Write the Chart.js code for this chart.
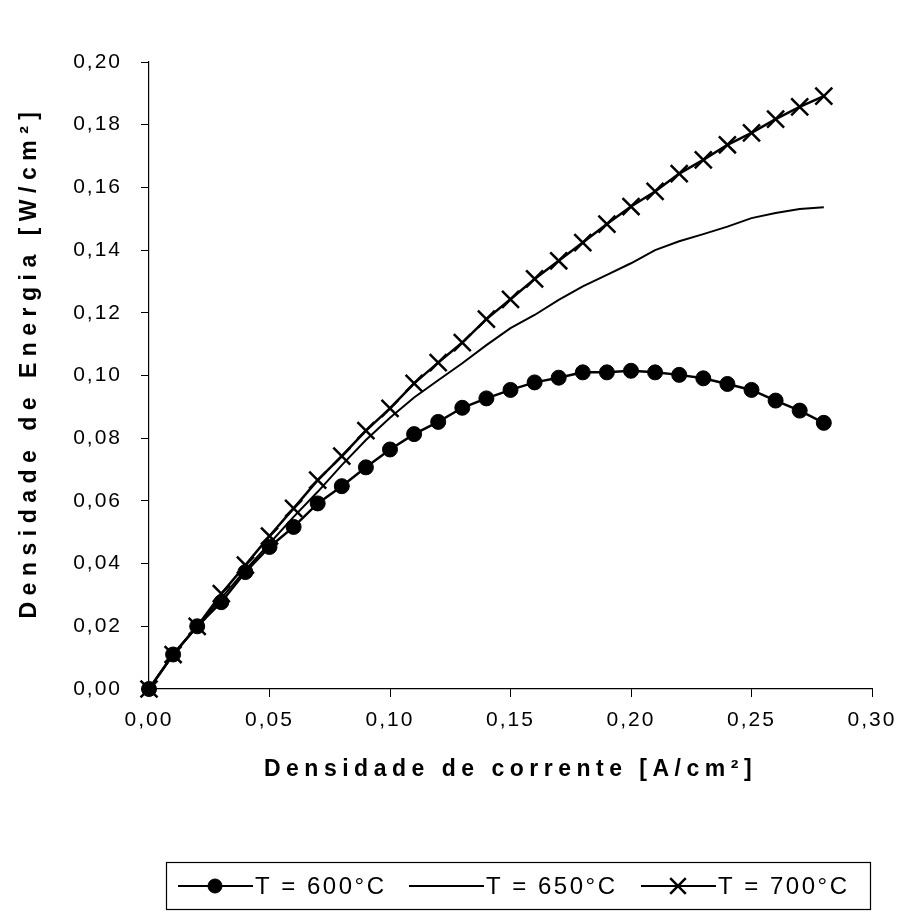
<!DOCTYPE html>
<html>
<head>
<meta charset="utf-8">
<script src="https://cdn.jsdelivr.net/npm/chart.js@4.4.1/dist/chart.umd.min.js"></script>
<style>
  html, body { margin: 0; padding: 0; background: #fff; }
  #wrap { width: 904px; height: 920px; }
</style>
</head>
<body>
<div id="wrap"><canvas id="grafico" width="904" height="920"></canvas></div>
<script>
// densidade de corrente [A/cm2]
const correntes = [0, 0.01, 0.02, 0.03, 0.04, 0.05, 0.06, 0.07, 0.08, 0.09,
  0.10, 0.11, 0.12, 0.13, 0.14, 0.15, 0.16, 0.17, 0.18, 0.19,
  0.20, 0.21, 0.22, 0.23, 0.24, 0.25, 0.26, 0.27, 0.28];

// densidade de energia [W/cm2] por temperatura
const t600 = [0, 0.011, 0.020, 0.0277, 0.0373, 0.0453, 0.0517, 0.0592, 0.0647, 0.0707,
  0.0764, 0.0813, 0.0852, 0.0897, 0.0927, 0.0954, 0.0978, 0.0993, 0.1010, 0.1010,
  0.1015, 0.1010, 0.1002, 0.0991, 0.0973, 0.0954, 0.0920, 0.0888, 0.0849];
const t650 = [0, 0.011, 0.020, 0.029, 0.038, 0.0464, 0.0549, 0.0629, 0.0714, 0.0794,
  0.0865, 0.0930, 0.0985, 0.1039, 0.1097, 0.1151, 0.1193, 0.1241, 0.1284, 0.1321,
  0.1358, 0.1400, 0.1428, 0.1451, 0.1475, 0.1502, 0.1518, 0.1531, 0.1537];
const t700 = [0, 0.011, 0.020, 0.0304, 0.0395, 0.0488, 0.0576, 0.0666, 0.0743, 0.0824,
  0.0895, 0.0975, 0.1041, 0.1105, 0.1180, 0.1243, 0.1308, 0.1366, 0.1424, 0.1483,
  0.1539, 0.1587, 0.1644, 0.1688, 0.1736, 0.1774, 0.1818, 0.1857, 0.1891];

const rotulos = ['T = 600°C', 'T = 650°C', 'T = 700°C'];

const xTicks = [0, 0.05, 0.10, 0.15, 0.20, 0.25, 0.30];
const xTickLabels = ['0,00', '0,05', '0,10', '0,15', '0,20', '0,25', '0,30'];
const yTicks = [0, 0.02, 0.04, 0.06, 0.08, 0.10, 0.12, 0.14, 0.16, 0.18, 0.20];
const yTickLabels = ['0,00', '0,02', '0,04', '0,06', '0,08', '0,10', '0,12', '0,14', '0,16', '0,18', '0,20'];

const tituloX = 'Densidade de corrente [A/cm²]';
const tituloY = 'Densidade de Energia [W/cm²]';

const FONTE = '"Liberation Sans", Arial, sans-serif';

function pontos(ys) {
  return correntes.map((x, i) => ({ x: x, y: ys[i] }));
}

// espacamento entre letras (o grafico original tem texto espacado)
const espacamento = {
  id: 'espacamento',
  beforeDraw(chart) { chart.ctx.letterSpacing = '2px'; },
  afterDraw(chart) { chart.ctx.letterSpacing = '0px'; }
};

// titulos dos eixos e legenda em caixa, desenhados a mao
const extras = {
  id: 'extras',
  afterDraw(chart) {
    const ctx = chart.ctx;
    const area = chart.chartArea;
    ctx.save();
    ctx.fillStyle = '#000';
    ctx.strokeStyle = '#000';

    ctx.font = 'bold 23px ' + FONTE;
    ctx.letterSpacing = '5.5px';
    ctx.textAlign = 'center';
    ctx.textBaseline = 'middle';
    ctx.fillText(tituloX, (area.left + area.right) / 2, 770);

    ctx.save();
    ctx.letterSpacing = '6.5px';
    ctx.translate(30, 362);
    ctx.rotate(-Math.PI / 2);
    ctx.fillText(tituloY, 0, 0);
    ctx.restore();

    // legenda
    ctx.lineWidth = 1.2;
    ctx.strokeRect(166.5, 862.5, 704, 47);
    const itensX = [178, 409, 641];
    const yLeg = 886;
    ctx.font = '24px ' + FONTE;
    ctx.letterSpacing = '2.5px';
    ctx.textAlign = 'left';
    chart.data.datasets.forEach((ds, i) => {
      const x0 = itensX[i];
      ctx.lineWidth = 2;
      ctx.beginPath();
      ctx.moveTo(x0, yLeg);
      ctx.lineTo(x0 + 75, yLeg);
      ctx.stroke();
      if (ds.pointRadius > 0) {
        ctx.lineWidth = ds.pointBorderWidth;
        Chart.helpers.drawPoint(ctx, {
          pointStyle: ds.pointStyle,
          radius: ds.pointStyle === 'circle' ? 7 : 11,
          borderWidth: ds.pointBorderWidth,
          rotation: 0
        }, x0 + 37, yLeg);
      }
      ctx.fillText(ds.label, x0 + 77, yLeg + 1);
    });
    ctx.restore();
  }
};

new Chart(document.getElementById('grafico'), {
  type: 'line',
  data: {
    datasets: [
      {
        label: rotulos[0],
        data: pontos(t600),
        borderColor: '#000',
        backgroundColor: '#000',
        borderWidth: 2.5,
        pointStyle: 'circle',
        pointRadius: 7.5,
        pointBorderWidth: 1,
        clip: false
      },
      {
        label: rotulos[1],
        data: pontos(t650),
        borderColor: '#000',
        backgroundColor: '#000',
        borderWidth: 2,
        pointRadius: 0,
        pointBorderWidth: 0,
        clip: false
      },
      {
        label: rotulos[2],
        data: pontos(t700),
        borderColor: '#000',
        backgroundColor: '#000',
        borderWidth: 2.5,
        pointStyle: 'crossRot',
        pointRadius: 12,
        pointBorderWidth: 2.5,
        clip: false
      }
    ]
  },
  options: {
    responsive: false,
    animation: false,
    devicePixelRatio: 1,
    layout: { padding: { left: 0, right: 32, top: 62, bottom: 0 } },
    plugins: {
      legend: { display: false },
      tooltip: { enabled: false }
    },
    scales: {
      x: {
        type: 'linear',
        min: 0,
        max: 0.30,
        afterBuildTicks: s => { s.ticks = xTicks.map(v => ({ value: v })); },
        afterFit: s => { s.height = 231; },
        grid: { display: true, drawOnChartArea: false, drawTicks: true, tickLength: 8, color: '#000', lineWidth: 1 },
        border: { display: true, color: '#000', width: 1.2 },
        ticks: {
          color: '#000',
          font: { family: FONTE, size: 21 },
          padding: 11,
          maxRotation: 0,
          callback: (v, i) => xTickLabels[i]
        }
      },
      y: {
        type: 'linear',
        min: 0,
        max: 0.20,
        afterBuildTicks: s => { s.ticks = yTicks.map(v => ({ value: v })); },
        afterFit: s => { s.width = 149; },
        grid: { display: true, drawOnChartArea: false, drawTicks: true, tickLength: 8, color: '#000', lineWidth: 1 },
        border: { display: true, color: '#000', width: 1.2 },
        ticks: {
          color: '#000',
          font: { family: FONTE, size: 21 },
          padding: 19,
          callback: (v, i) => yTickLabels[i]
        }
      }
    }
  },
  plugins: [espacamento, extras]
});
</script>
</body>
</html>
